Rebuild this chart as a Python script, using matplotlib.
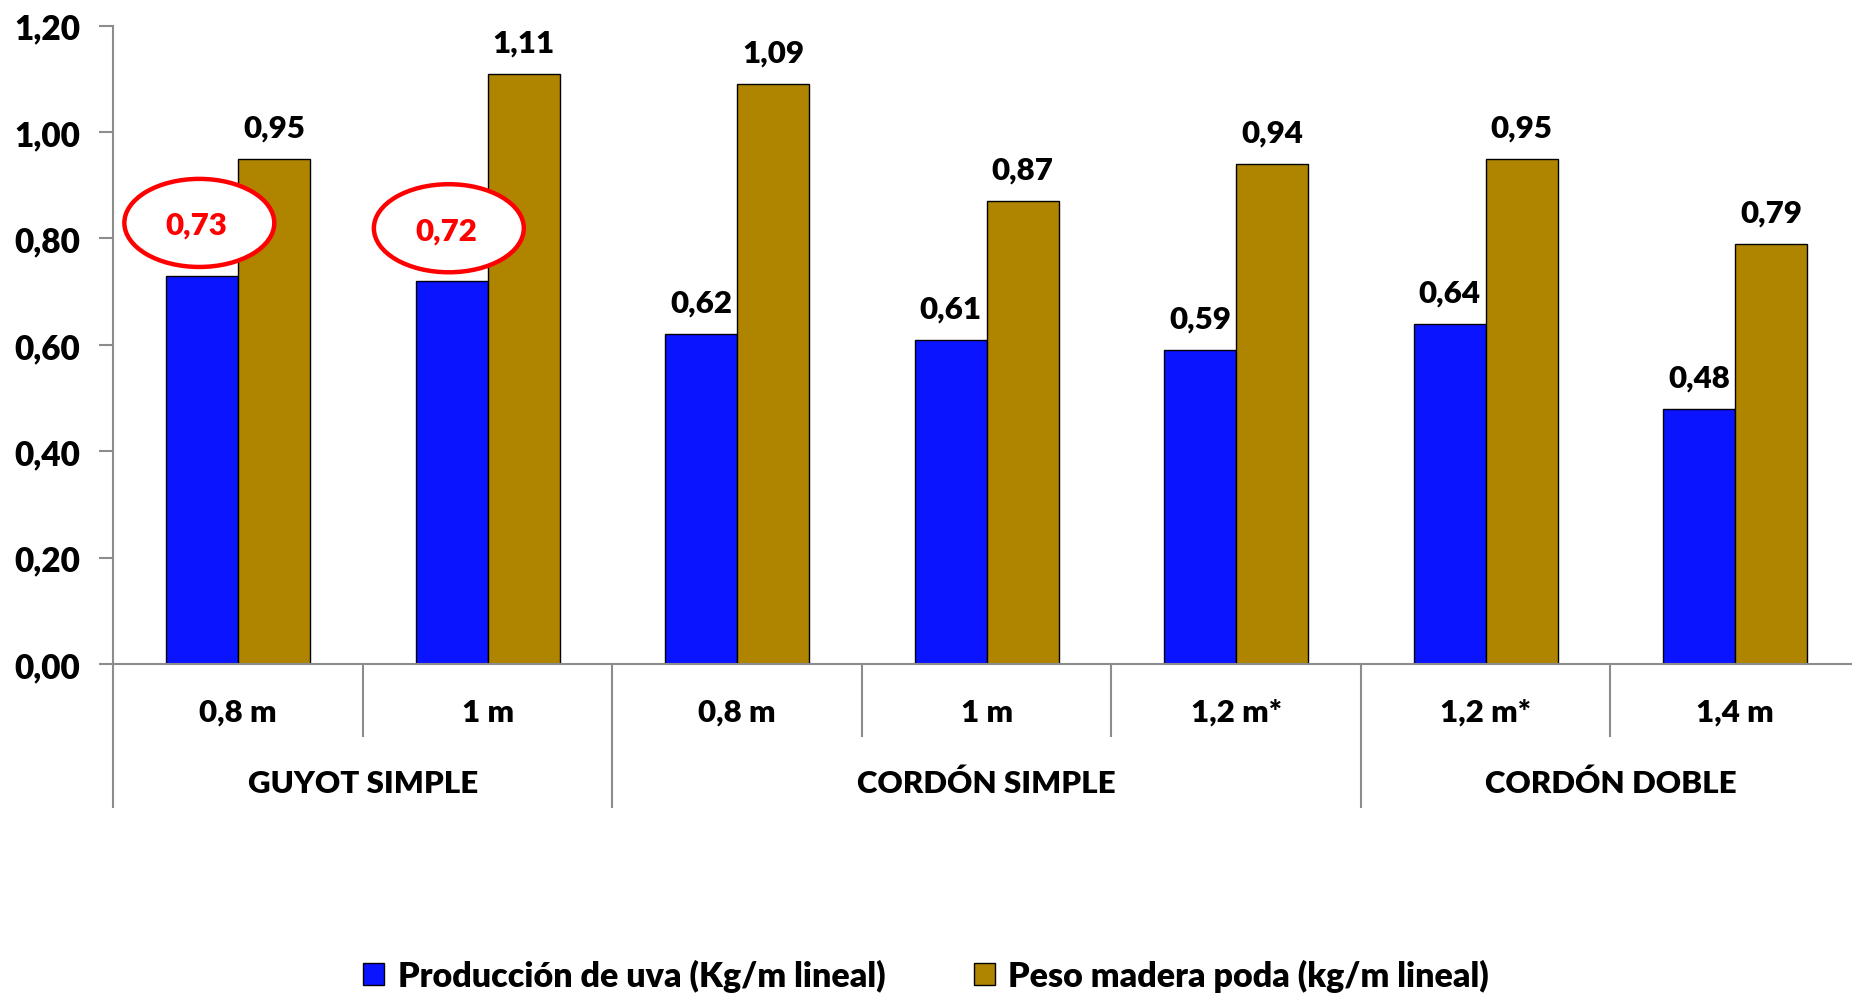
import matplotlib
matplotlib.use("Agg")
import matplotlib.pyplot as plt
from matplotlib.patches import Ellipse, Patch
from matplotlib.transforms import blended_transform_factory, offset_copy
import numpy as np

plt.rcParams['font.family'] = ['Lato', 'DejaVu Sans']

# ---- data ----
sub_labels = ["0,8 m", "1 m", "0,8 m", "1 m", "1,2 m*", "1,2 m*", "1,4 m"]
group_labels = ["GUYOT SIMPLE", "CORDÓN SIMPLE", "CORDÓN DOBLE"]
group_sizes = [2, 3, 2]
produccion = [0.73, 0.72, 0.62, 0.61, 0.59, 0.64, 0.48]
madera = [0.95, 1.11, 1.09, 0.87, 0.94, 0.95, 0.79]
highlight = [0, 1]  # labels circled in red
series_names = ["Producción de uva (Kg/m lineal)", "Peso madera poda (kg/m lineal)"]
y_ticks = [0.0, 0.2, 0.4, 0.6, 0.8, 1.0, 1.2]

BLUE = "#0A14FF"
GOLD = "#AF8500"
GRAY = "#8C8C8C"
FW = "heavy"

W, H = 1852, 995
fig = plt.figure(figsize=(W / 100, H / 100), dpi=100)
left, right = 113.4 / W, 1860 / W
bottom, top = 1 - 665 / H, 1 - 26.7 / H
ax = fig.add_axes([left, bottom, right - left, top - bottom])

n = len(sub_labels)
x = np.arange(n)
bw = 0.289
ax.bar(x - bw / 2, produccion, bw, color=BLUE, edgecolor="black", linewidth=1.0, zorder=2)
ax.bar(x + bw / 2, madera, bw, color=GOLD, edgecolor="black", linewidth=1.0, zorder=2)

fs = 22.5
ax.set_xlim(-0.5, n - 0.5)
ax.set_ylim(0, 1.2)
ax.set_yticks(y_ticks)
ax.set_yticklabels([f"{v:.2f}".replace(".", ",") for v in y_ticks], fontsize=24, fontweight=FW)
ax.set_xticks([])
for s in ["top", "right"]:
    ax.spines[s].set_visible(False)
for s in ["left", "bottom"]:
    ax.spines[s].set_color(GRAY)
    ax.spines[s].set_linewidth(1.5)
ax.tick_params(axis="y", length=10, width=1.5, color=GRAY, pad=14)

# data labels
for i in range(n):
    if i in highlight:
        continue
    ax.annotate(f"{produccion[i]:.2f}".replace(".", ","), (x[i] - bw / 2, produccion[i]),
                xytext=(0, 22.5), textcoords="offset points", ha="center", va="center",
                fontsize=fs, fontweight=FW)
for i in range(n):
    ax.annotate(f"{madera[i]:.2f}".replace(".", ","), (x[i] + bw / 2, madera[i]),
                xytext=(0, 22.5), textcoords="offset points", ha="center", va="center",
                fontsize=fs, fontweight=FW)

# highlighted (circled) labels
for i in highlight:
    cx, cy = x[i] - bw / 2, produccion[i]
    ell = Ellipse((cx, cy), width=150 / 249.6, height=88 / 531.5,
                  facecolor="white", edgecolor="#FF0000", linewidth=3.2, zorder=5)
    ell.set_transform(offset_copy(ax.transData, fig=fig, x=-2, y=38, units="points"))
    ax.add_patch(ell)
    tr = offset_copy(ax.transData, fig=fig, x=-4, y=36.5, units="points")
    ax.text(cx, cy, f"{produccion[i]:.2f}".replace(".", ","), transform=tr,
            ha="center", va="center", fontsize=fs, fontweight=FW, color="#FF0000", zorder=6)

# category axis labels and separators
bt = blended_transform_factory(ax.transData, ax.transAxes)
axh = 665 - 26.7
for i, lab in enumerate(sub_labels):
    ax.text(x[i], -(713 - 665) / axh, lab, transform=bt, ha="center", va="center",
            fontsize=fs, fontweight=FW)
bounds = np.cumsum([0] + group_sizes)
for i in range(n + 1):
    is_group = i in bounds
    yend = -(807.7 - 665) / axh if is_group else -(736.7 - 665) / axh
    ax.plot([i - 0.5, i - 0.5], [0, yend], transform=bt, color=GRAY, linewidth=1.5,
            clip_on=False)
for g, lab in enumerate(group_labels):
    c = (bounds[g] + bounds[g + 1] - 1) / 2
    ax.text(c, -(784 - 665) / axh, lab, transform=bt, ha="center", va="center",
            fontsize=fs, fontweight=FW)

handles = [Patch(facecolor=BLUE, edgecolor="black", linewidth=1.0),
           Patch(facecolor=GOLD, edgecolor="black", linewidth=1.0)]
fig.legend(handles, series_names, loc="center", bbox_to_anchor=(0.5, 1 - 976 / H), ncol=2,
           frameon=False, prop={"size": 24.5, "weight": FW}, handlelength=0.62,
           handleheight=0.62, handletextpad=0.4, columnspacing=2.6)

fig.savefig("out.png", dpi=100)
